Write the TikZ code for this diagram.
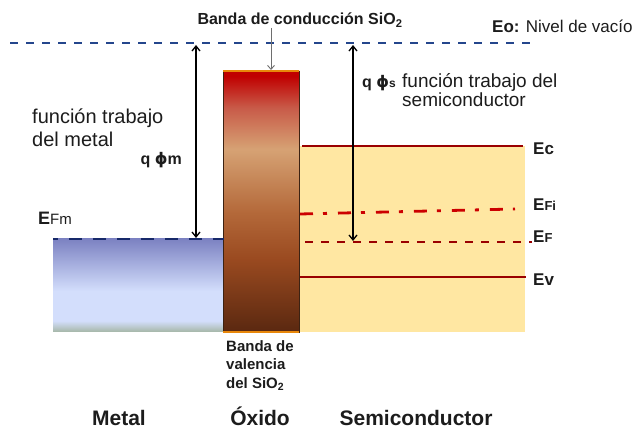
\documentclass[tikz,border=0pt]{standalone}
\usepackage{fontspec}
\setmainfont{Liberation Sans}
\newfontfamily\phifont{DejaVu Sans}
\usetikzlibrary{positioning, arrows.meta}
\usepackage{xcolor}
\definecolor{vacblue}{HTML}{24468C}
\definecolor{efmblue}{HTML}{17296A}
\definecolor{nivred}{HTML}{9A0000}
\definecolor{firred}{HTML}{CC0000}
\definecolor{semiyel}{HTML}{FFE7A2}
\definecolor{oxedge}{HTML}{E8870A}
\definecolor{oxline}{HTML}{3C2212}
\definecolor{txtdark}{HTML}{1C1C1C}
\definecolor{ptrgray}{HTML}{6E6E6E}
\definecolor{oxtop}{HTML}{C00000}
\definecolor{oxrose}{HTML}{C85A48}
\definecolor{oxtan}{HTML}{D6A274}
\definecolor{oxorange}{HTML}{B4693A}
\definecolor{oxbrown}{HTML}{9A4A20}
\definecolor{oxbot}{HTML}{5A2810}
\definecolor{mettop}{HTML}{7C82C2}
\definecolor{metlight}{HTML}{D3DEFC}
\definecolor{metgreen}{HTML}{A5B6A6}
\pgfdeclareverticalshading{oxidoshade}{100bp}{color(0bp)=(oxbot); color(25bp)=(oxbot);
  color(39bp)=(oxbrown); color(48bp)=(oxorange); color(60bp)=(oxtan);
  color(68bp)=(oxrose); color(74bp)=(oxtop); color(100bp)=(oxtop)}
\pgfdeclareverticalshading{metalshade}{100bp}{color(0bp)=(metgreen); color(25bp)=(metgreen);
  color(31bp)=(metlight); color(47bp)=(metlight); color(75bp)=(mettop); color(100bp)=(mettop)}
\newcommand{\fiq}{{\phifont\bfseries ϕ}}

\begin{document}
\begin{tikzpicture}[x=1pt, y=-1pt, text=txtdark,
    bloque/.style={inner sep=0pt, outer sep=0pt},
    nivel/.style={nivred, line width=2.8pt},
    flecha/.style={black, line width=1.3pt, {Straight Barb[length=5pt,width=8pt]}-{Straight Barb[length=5pt,width=8pt]}},
    rotulo/.style={inner sep=0pt, font=\fontsize{17}{20}\selectfont\bfseries},
    titulo/.style={inner sep=0pt, font=\fontsize{21}{24}\selectfont\bfseries}]
  \useasboundingbox (0,0) rectangle (640,430);

  % bloques de material
  \node[bloque, fill=semiyel, minimum width=226pt, minimum height=186pt] (semi) at (412,239) {};
  \node[bloque, shading=metalshade, minimum width=171pt, minimum height=93pt] (metal) at (138.5,285.5) {};
  \node[bloque, shading=oxidoshade, draw=oxline, line width=0.8pt, minimum width=76pt, minimum height=261pt] (oxido) at (261,201.5) {};
  \draw[oxedge, line width=2.5pt] (oxido.north west) -- (oxido.north east);
  \draw[oxedge, line width=2.5pt] (oxido.south west) -- (oxido.south east);

  % niveles de energia
  \coordinate (vacL) at (10,43);
  \coordinate (vacR) at (532,43);
  \draw[vacblue, line width=2.6pt, dash pattern=on 8pt off 8pt] (vacL) -- (vacR);
  \draw[efmblue, line width=2.8pt, dash pattern=on 13pt off 11pt, dash phase=8pt] (metal.north west) -- (metal.north east);
  \draw[nivel] (302,146) coordinate (ecL) -- (523,146) coordinate (ecR);
  \draw[firred, line width=2.8pt, dash pattern=on 13pt off 10pt on 4pt off 11pt] (300,214) coordinate (efiL) -- (515,209) coordinate (efiR);
  \draw[nivred, line width=2.2pt, dash pattern=on 8pt off 8pt] (305,242) coordinate (efL) -- (532,242) coordinate (efR);
  \draw[nivel] (300,277) coordinate (evL) -- (526,277) coordinate (evR);

  % textos
  \node[inner sep=0pt, anchor=base, font=\fontsize{16}{19}\selectfont\bfseries] (bandac) at (300,25) {Banda de conducción SiO\textsubscript{2}};
  \node[inner sep=0pt, anchor=base west, font=\fontsize{17}{20}\selectfont] (eo) at (492,33) {\textbf{Eo:} Nivel de vacío};
  \node[inner sep=0pt, anchor=north west, align=left, font=\fontsize{20}{23}\selectfont] (ftm) at (32,109) {función trabajo\\del metal};
  \node[inner sep=0pt, anchor=base east, font=\fontsize{16}{19}\selectfont\bfseries] (qfm) at (182,165) {q \fiq m};
  \node[inner sep=0pt, anchor=base west] (efm) at (38,225) {{\fontsize{18}{20}\selectfont\bfseries E}{\fontsize{15}{18}\selectfont Fm}};
  \node[inner sep=0pt, anchor=base west, font=\fontsize{16}{19}\selectfont\bfseries] (qfs) at (362,88) {q \fiq{\fontsize{12}{14}\selectfont s}};
  \node[inner sep=0pt, anchor=north west, align=left, font=\fontsize{19}{19}\selectfont] (fts) at (402,73) {función trabajo del\\semiconductor};
  \node[rotulo, anchor=base west] (lec) at (533,155) {Ec};
  \node[rotulo, anchor=base west] (lefi) at (533,211) {E{\fontsize{13}{15}\selectfont Fi}};
  \node[rotulo, anchor=base west] (lef) at (533,243) {E{\fontsize{13}{15}\selectfont F}};
  \node[rotulo, anchor=base west] (lev) at (533,286) {Ev};
  \node[inner sep=0pt, anchor=north west, align=left, font=\fontsize{15}{18.5}\selectfont\bfseries] (bandav) at (226,340) {Banda de\\valencia\\del SiO\textsubscript{2}};
  \node[titulo, anchor=base] (tmetal) at (119,425) {Metal};
  \node[titulo, anchor=base] (toxido) at (260,425) {Óxido};
  \node[titulo, anchor=base] (tsemi) at (416,425) {Semiconductor};

  % flechas
  \coordinate (vm) at (196,45);
  \coordinate (fm) at (196,238);
  \coordinate (vs) at (353,45);
  \coordinate (fs) at (353,241);
  \draw[flecha] (vm) -- (fm);
  \draw[flecha] (vs) -- (fs);
  \coordinate (tipox) at (271,70);
  \draw[ptrgray, line width=0.9pt, -{Straight Barb[length=4pt,width=7pt]}] (bandac.south -| tipox) -- (tipox);
\end{tikzpicture}
\end{document}
